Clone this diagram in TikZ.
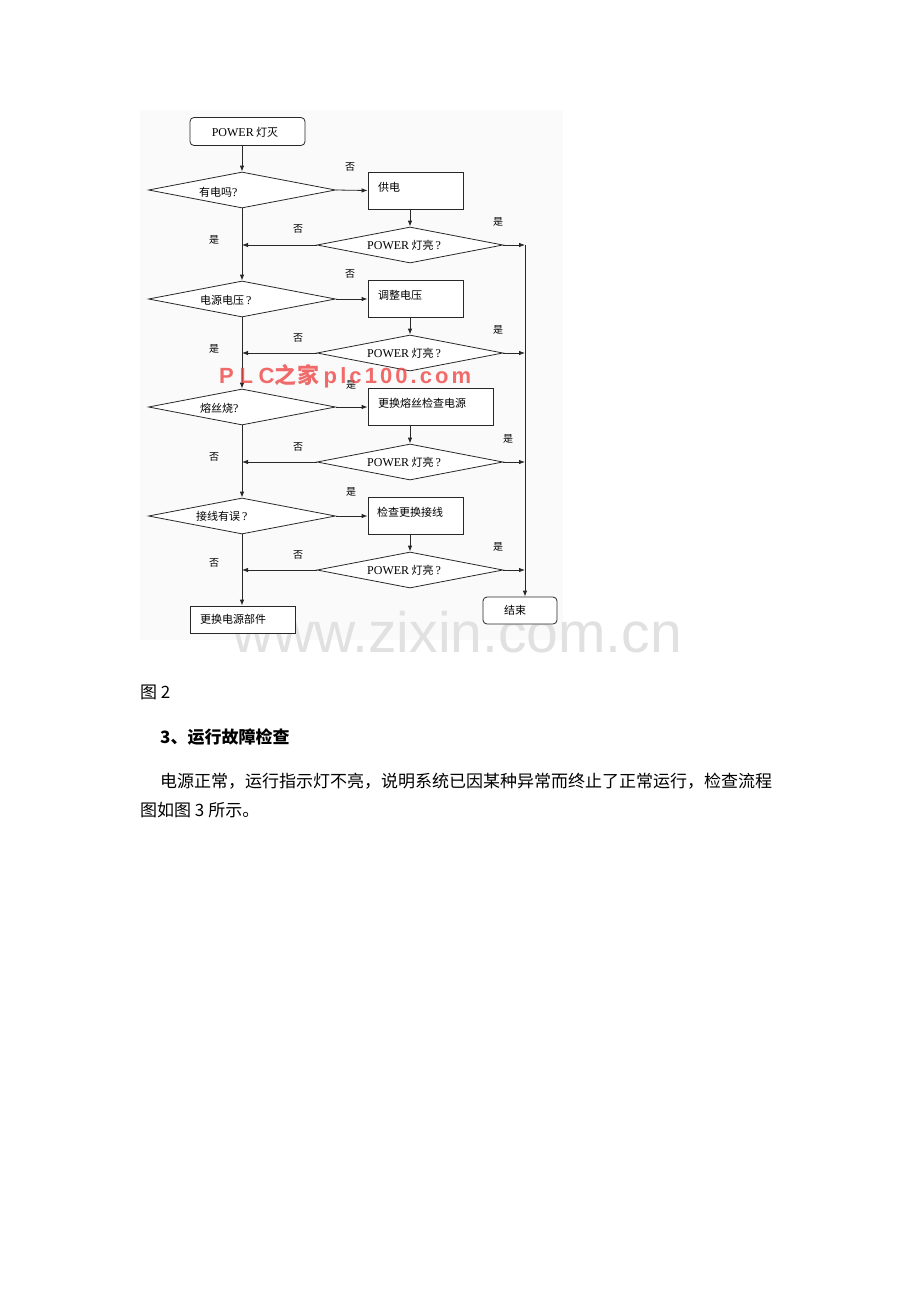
\documentclass[tikz,border=0pt]{standalone}
\usepackage{fontspec}
\setmainfont{Noto Sans CJK SC}
\newfontfamily\tm{Liberation Serif}
\newfontfamily\wmf{Liberation Sans}
\newfontfamily\wmfa{Liberation Sans}[LetterSpace=26]
\newfontfamily\wmfb{Liberation Sans}[LetterSpace=14]
\newfontfamily\wmcjk{Noto Sans CJK SC}[LetterSpace=5]
\usetikzlibrary{shapes.geometric,arrows.meta}
\definecolor{bg}{RGB}{250,250,250}
\definecolor{ink}{RGB}{40,40,40}
\definecolor{wmred}{RGB}{238,70,70}
\definecolor{wmgray}{RGB}{225,225,225}
\newcommand\dgf{\fontsize{11}{11}\selectfont}
\newcommand\PW{{\tm\fontsize{12}{12}\selectfont POWER}}
\newcommand\QM{{\tm\fontsize{12}{12}\selectfont ?}}
\tikzset{
  ln/.style={line width=0.8pt, draw=ink},
  arr/.style={ln, -{Latex[length=6pt,width=4.5pt]}},
  boxn/.style={draw=ink, line width=0.8pt, inner sep=0, fill=white},
  dia/.style={diamond, draw=ink, line width=0.8pt, aspect=5, inner sep=0, minimum width=187pt, minimum height=36pt, fill=white},
  lab/.style={inner sep=0, font=\fontsize{10}{10}\selectfont},
  txt/.style={inner sep=0, font=\dgf, anchor=west},
  body/.style={inner sep=0, anchor=west, font=\fontsize{17}{17}\selectfont},
}
\begin{document}
\begin{tikzpicture}[x=1pt,y=-1pt]
\useasboundingbox (0,0) rectangle (920,1302);
\fill[white] (0,0) rectangle (920,1302);
\fill[bg] (140,110) rectangle (563,640);
% gray watermark
\node[inner sep=0, anchor=base west, text=wmgray, font=\wmf\fontsize{57}{57}\selectfont] (wm2) at (232,652) {www.zixin.com.cn};

% nodes
\node[boxn, rounded corners=4pt, minimum width=115pt, minimum height=28pt] (start) at (247.5,131.5) {};
\node[dia] (d1) at (242,190) {};
\node[boxn, minimum width=95pt, minimum height=37pt] (b1) at (415.5,190.5) {};
\node[dia, minimum width=186pt] (p1) at (410,245) {};
\node[dia] (d3) at (242,299) {};
\node[boxn, minimum width=95pt, minimum height=37pt] (b2) at (415.5,299) {};
\node[dia, minimum width=186pt] (p2) at (410,353) {};
\node[dia] (d5) at (242,407) {};
\node[boxn, minimum width=125pt, minimum height=37pt] (b3) at (430.5,407) {};
\node[dia, minimum width=186pt] (p3) at (410,462) {};
\node[dia] (d7) at (242,516) {};
\node[boxn, minimum width=95pt, minimum height=37pt] (b4) at (415.5,516) {};
\node[dia, minimum width=186pt] (p4) at (410,570) {};
\node[boxn, minimum width=105pt, minimum height=27pt] (endL) at (242.5,619.5) {};
\node[boxn, rounded corners=4pt, minimum width=74pt, minimum height=27pt] (endR) at (520,610.5) {};
\coordinate (rtop) at (525,245);

% texts
\node[inner sep=0, font=\dgf] (t0) at (245,132.5) {\PW{} 灯灭};
\node[txt] (td1) at (199,192) {有电吗\QM};
\node[txt] (tb1) at (378,187) {供电};
\node[txt] (tp1) at (367,245) {\PW{} 灯亮\,\QM};
\node[txt] (td3) at (200,300) {电源电压\,\QM};
\node[txt] (tb2) at (378,295) {调整电压};
\node[txt] (tp2) at (367,353) {\PW{} 灯亮\,\QM};
\node[txt] (td5) at (200,408) {熔丝烧\QM};
\node[txt] (tb3) at (378,403) {更换熔丝检查电源};
\node[txt] (tp3) at (367,462) {\PW{} 灯亮\,\QM};
\node[txt] (td7) at (196,516) {接线有误\,\QM};
\node[txt] (tb4) at (377,512) {检查更换接线};
\node[txt] (tp4) at (367,570) {\PW{} 灯亮\,\QM};
\node[txt] (tel) at (200,619) {更换电源部件};
\node[inner sep=0, font=\dgf] (ter) at (515,610) {结束};

% connectors
\draw[arr] (start.south -| d1.north) -- (d1.north);
\draw[arr] (d1.east) -- (b1.west);
\draw[arr] (b1.south -| p1.north) -- (p1.north);
\draw[arr] (p1.west) -- (p1.west -| d1.south);
\draw[arr] (p1.east) -- (p1.east -| rtop);
\draw[arr] (d1.south) -- (d3.north);
\draw[arr] (d3.east) -- (b2.west);
\draw[arr] (b2.south -| p2.north) -- (p2.north);
\draw[arr] (p2.west) -- (p2.west -| d3.south);
\draw[arr] (p2.east) -- (p2.east -| rtop);
\draw[arr] (d3.south) -- (d5.north);
\draw[arr] (d5.east) -- (b3.west);
\draw[arr] (b3.south -| p3.north) -- (p3.north);
\draw[arr] (p3.west) -- (p3.west -| d5.south);
\draw[arr] (p3.east) -- (p3.east -| rtop);
\draw[arr] (d5.south) -- (d7.north);
\draw[arr] (d7.east) -- (b4.west);
\draw[arr] (b4.south -| p4.north) -- (p4.north);
\draw[arr] (p4.west) -- (p4.west -| d7.south);
\draw[arr] (p4.east) -- (p4.east -| rtop);
\draw[arr] (d7.south) -- (endL.north -| d7.south);
\draw[arr] (rtop) -- (rtop |- endR.north);

% labels
\node[lab] (l1) at (350,167) {否};
\node[lab] (l2) at (298,229) {否};
\node[lab] (l3) at (498,222) {是};
\node[lab] (l4) at (214,240) {是};
\node[lab] (l5) at (350,274) {否};
\node[lab] (l6) at (298,338) {否};
\node[lab] (l7) at (498,330) {是};
\node[lab] (l8) at (214,349) {是};
\node[lab] (l9) at (351,385) {是};
\node[lab] (l10) at (298,447) {否};
\node[lab] (l11) at (508,439) {是};
\node[lab] (l12) at (214,457) {否};
\node[lab] (l13) at (351,492) {是};
\node[lab] (l14) at (298,555) {否};
\node[lab] (l15) at (498,547) {是};
\node[lab] (l16) at (214,563) {否};

% red watermark
\node[inner sep=0, anchor=base west, text=wmred, opacity=0.8, font=\bfseries\fontsize{22}{22}\selectfont] (wm1) at (219,383.5) {{\wmfa\bfseries PLC}{\wmcjk\bfseries 之家}\hspace{4pt}{\wmfb\bfseries plc100.com}};

% body text
\node[body] (fig) at (140,692) {图 2};
\node[body, font=\bfseries\fontsize{17}{17}\selectfont] (h3) at (160,737) {3、运行故障检查};
\node[body] (para1) at (160,781) {电源正常，运行指示灯不亮，说明系统已因某种异常而终止了正常运行，检查流程};
\node[body] (para2) at (140,810) {图如图 3 所示。};
\end{tikzpicture}
\end{document}
